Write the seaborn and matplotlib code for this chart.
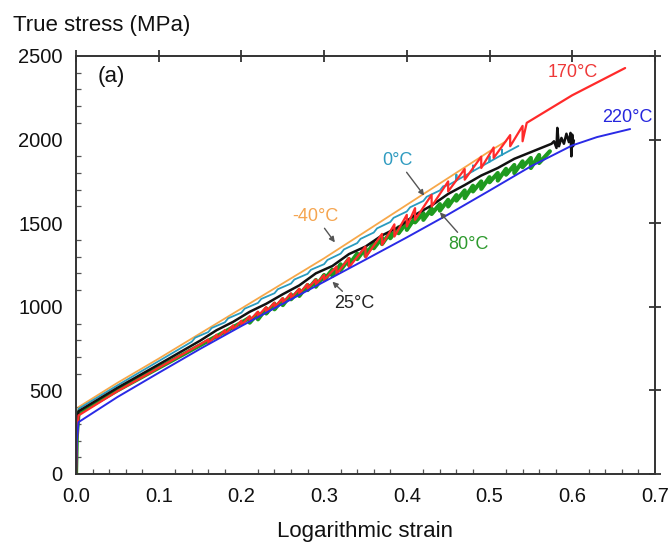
import matplotlib
matplotlib.use("Agg")
import matplotlib.pyplot as plt
from matplotlib.ticker import MultipleLocator
import seaborn as sns
import pandas as pd

# ---------------- data ----------------
m40_strain = [0, 0.001, 0.003, 0.05, 0.1, 0.15, 0.2, 0.25, 0.3, 0.35, 0.4, 0.45, 0.5, 0.52]
m40_stress = [0, 250, 400, 545, 690, 840, 990, 1140, 1290, 1450, 1610, 1770, 1930, 1990]

c0_strain = [0, 0.001, 0.003, 0.05, 0.1, 0.14, 0.144, 0.16, 0.164, 0.18, 0.184, 0.2, 0.204,
             0.22, 0.224, 0.24, 0.244, 0.26, 0.264, 0.28, 0.284, 0.30, 0.304, 0.32, 0.324,
             0.34, 0.344, 0.36, 0.364, 0.38, 0.384, 0.40, 0.404, 0.42, 0.424, 0.44, 0.444,
             0.45, 0.46, 0.46, 0.46, 0.48, 0.48, 0.48, 0.50, 0.50, 0.50, 0.515, 0.515, 0.515, 0.535]
c0_stress = [0, 250, 390, 530, 675, 791, 815, 849, 873, 907, 931, 965, 989,
             1023, 1047, 1081, 1105, 1139, 1163, 1197, 1221, 1255, 1280, 1318, 1343,
             1381, 1406, 1444, 1469, 1507, 1532, 1570, 1595, 1633, 1658, 1696, 1721,
             1727, 1755, 1790, 1755, 1811, 1845, 1811, 1867, 1900, 1867, 1909, 1940, 1909, 1962]

c25_strain = [0, 0.001, 0.003, 0.05, 0.1, 0.15, 0.17, 0.19, 0.21, 0.23, 0.25, 0.27, 0.29,
              0.31, 0.33, 0.35, 0.37, 0.39, 0.41, 0.43, 0.45, 0.47, 0.49, 0.51, 0.53, 0.55,
              0.57, 0.575, 0.578, 0.581, 0.582, 0.584, 0.587, 0.59, 0.593, 0.596, 0.598,
              0.599, 0.6, 0.601, 0.602]
c25_stress = [0, 240, 375, 515, 655, 797, 860, 910, 970, 1018, 1075, 1128, 1200,
              1244, 1315, 1360, 1427, 1476, 1550, 1606, 1675, 1728, 1785, 1830, 1885, 1925,
              1965, 1975, 1990, 1950, 2070, 1960, 2010, 1975, 2035, 1985, 2040,
              1900, 2030, 1960, 1995]

c80_strain = [0, 0.001, 0.003, 0.05, 0.1, 0.15, 0.2, 0.21, 0.21, 0.22, 0.22, 0.23, 0.23,
              0.24, 0.24, 0.25, 0.25, 0.26, 0.26, 0.27, 0.27, 0.28, 0.28, 0.29, 0.29,
              0.30, 0.30, 0.31, 0.31, 0.32, 0.32, 0.33, 0.33, 0.34, 0.34, 0.35, 0.35,
              0.36, 0.36, 0.37, 0.37, 0.38, 0.38, 0.39, 0.39, 0.40, 0.40, 0.41, 0.41,
              0.42, 0.42, 0.43, 0.43, 0.44, 0.44, 0.45, 0.45, 0.46, 0.46, 0.47, 0.47,
              0.48, 0.48, 0.49, 0.49, 0.50, 0.50, 0.51, 0.51, 0.52, 0.52, 0.53, 0.53,
              0.54, 0.54, 0.55, 0.55, 0.56, 0.56, 0.573]
c80_stress = [0, 230, 365, 500, 635, 770, 905, 935, 905, 962, 925, 990, 960,
              1018, 985, 1045, 1010, 1073, 1045, 1100, 1065, 1130, 1100, 1160, 1120,
              1190, 1160, 1222, 1185, 1254, 1220, 1286, 1250, 1318, 1285, 1350, 1305,
              1382, 1350, 1413, 1375, 1444, 1410, 1475, 1440, 1505, 1460, 1533, 1505,
              1560, 1520, 1587, 1555, 1614, 1575, 1640, 1600, 1668, 1635, 1696, 1650,
              1724, 1690, 1750, 1705, 1775, 1745, 1800, 1755, 1825, 1790, 1848, 1800,
              1870, 1835, 1890, 1830, 1908, 1860, 1930]

c170_strain = [0, 0.001, 0.003, 0.05, 0.1, 0.15, 0.16, 0.16, 0.17, 0.17, 0.18, 0.18,
               0.19, 0.19, 0.20, 0.20, 0.21, 0.21, 0.22, 0.22, 0.23, 0.23, 0.24, 0.24,
               0.25, 0.25, 0.26, 0.26, 0.27, 0.27, 0.28, 0.28, 0.29, 0.29, 0.30, 0.30,
               0.315, 0.315, 0.33, 0.33, 0.35, 0.35, 0.37, 0.37, 0.385, 0.385,
               0.40, 0.40, 0.41, 0.41, 0.43, 0.43, 0.45, 0.45, 0.47, 0.47, 0.49, 0.49,
               0.505, 0.505, 0.525, 0.525, 0.54, 0.54, 0.545, 0.6, 0.664]
c170_stress = [0, 200, 350, 495, 635, 775, 805, 780, 833, 808, 861, 836,
               889, 864, 917, 890, 944, 918, 971, 945, 998, 972, 1025, 998,
               1052, 1025, 1080, 1052, 1108, 1080, 1136, 1108, 1163, 1135, 1190, 1160,
               1241, 1195, 1292, 1235, 1360, 1295, 1436, 1370, 1493, 1420,
               1550, 1480, 1590, 1520, 1670, 1600, 1750, 1690, 1824, 1760, 1898, 1830,
               1953, 1890, 2027, 1960, 2082, 1990, 2100, 2265, 2428]

c220_strain = [0, 0.001, 0.003, 0.05, 0.1, 0.15, 0.2, 0.25, 0.3, 0.35, 0.4, 0.45, 0.5,
               0.55, 0.6, 0.63, 0.67]
c220_stress = [0, 200, 310, 460, 605, 748, 885, 1018, 1150, 1282, 1415, 1552, 1695,
               1840, 1965, 2015, 2063]

series_labels = ["-40°C", "0°C", "25°C", "80°C", "170°C", "220°C"]
series_strain = [m40_strain, c0_strain, c25_strain, c80_strain, c170_strain, c220_strain]
series_stress = [m40_stress, c0_stress, c25_stress, c80_stress, c170_stress, c220_stress]

line_colors = {"-40°C": "#f7a84a", "0°C": "#2a9bbf", "25°C": "#111111",
               "80°C": "#1f9a1f", "170°C": "#ff2a2a", "220°C": "#2a2ae6"}
text_colors = {"-40°C": "#f5a550", "0°C": "#2f9bc0", "25°C": "#222222",
               "80°C": "#2e9a2e", "170°C": "#ee3838", "220°C": "#2626dd"}
line_widths = {"-40°C": 1.3, "0°C": 1.3, "25°C": 1.8, "80°C": 3.0, "170°C": 1.6, "220°C": 1.4}
draw_order = ["-40°C", "0°C", "80°C", "25°C", "170°C", "220°C"]

# ---------------- figure ----------------
sns.set_theme(style="white")
plt.rcParams["font.family"] = ["Liberation Sans", "DejaVu Sans"]

fig = plt.figure(figsize=(6.71, 5.42), dpi=100)
ax = fig.add_axes([0.1133, 0.1255, 0.8627, 0.7712])

frames = []
for lab, xs, ys in zip(series_labels, series_strain, series_stress):
    frames.append(pd.DataFrame({"strain": xs, "stress": ys, "temp": lab}))
df = pd.concat(frames, ignore_index=True)

for lab in draw_order:
    sub = df[df["temp"] == lab]
    sns.lineplot(data=sub, x="strain", y="stress", ax=ax, color=line_colors[lab],
                 lw=line_widths[lab], estimator=None, sort=False, legend=False)

ax.set_xlim(0, 0.7)
ax.set_ylim(0, 2500)
ax.xaxis.set_major_locator(MultipleLocator(0.1))
ax.xaxis.set_minor_locator(MultipleLocator(0.02))
ax.yaxis.set_major_locator(MultipleLocator(500))
ax.yaxis.set_minor_locator(MultipleLocator(100))
ax.set_xticks(ax.get_xticks())
ax.set_xticklabels([f"{v:.1f}" for v in ax.get_xticks()])

for sp in ax.spines.values():
    sp.set_color("#333333")
    sp.set_linewidth(1.4)

ax.tick_params(which="major", direction="inout", length=9, width=1.3, color="#333333",
               top=True, right=True, labeltop=False, labelright=False,
               labelsize=14.5, labelcolor="#111111", pad=5)
ax.tick_params(which="minor", direction="in", length=3.5, width=0.9, color="#555555",
               bottom=True, left=True, top=False, right=False)
ax.set_xlim(0, 0.7)

ax.set_xlabel("Logarithmic strain", fontsize=16, color="#111111", labelpad=11)
ax.set_ylabel("")
fig.text(0.019, 0.953, "True stress (MPa)", fontsize=16, color="#111111",
         ha="left", va="center")

ax.text(0.026, 2375, "(a)", fontsize=16, color="#111111", ha="left", va="center")

# curve labels
ax.text(0.601, 2400, "170°C", fontsize=13, color=text_colors["170°C"], ha="center", va="center")
ax.text(0.667, 2130, "220°C", fontsize=13, color=text_colors["220°C"], ha="center", va="center")

arrow = dict(arrowstyle="-|>", color="#555555", lw=1.0, mutation_scale=8, shrinkA=0, shrinkB=0)
ax.annotate("0°C", xy=(0.421, 1665), xytext=(0.389, 1875), fontsize=13,
            color=text_colors["0°C"], ha="center", va="center", arrowprops=arrow)
ax.annotate("-40°C", xy=(0.313, 1385), xytext=(0.29, 1540), fontsize=13,
            color=text_colors["-40°C"], ha="center", va="center", arrowprops=arrow)
ax.annotate("25°C", xy=(0.31, 1150), xytext=(0.337, 1022), fontsize=13,
            color=text_colors["25°C"], ha="center", va="center", arrowprops=arrow)
ax.annotate("80°C", xy=(0.44, 1565), xytext=(0.474, 1375), fontsize=13,
            color=text_colors["80°C"], ha="center", va="center", arrowprops=arrow)

fig.savefig("out.png", dpi=100)
